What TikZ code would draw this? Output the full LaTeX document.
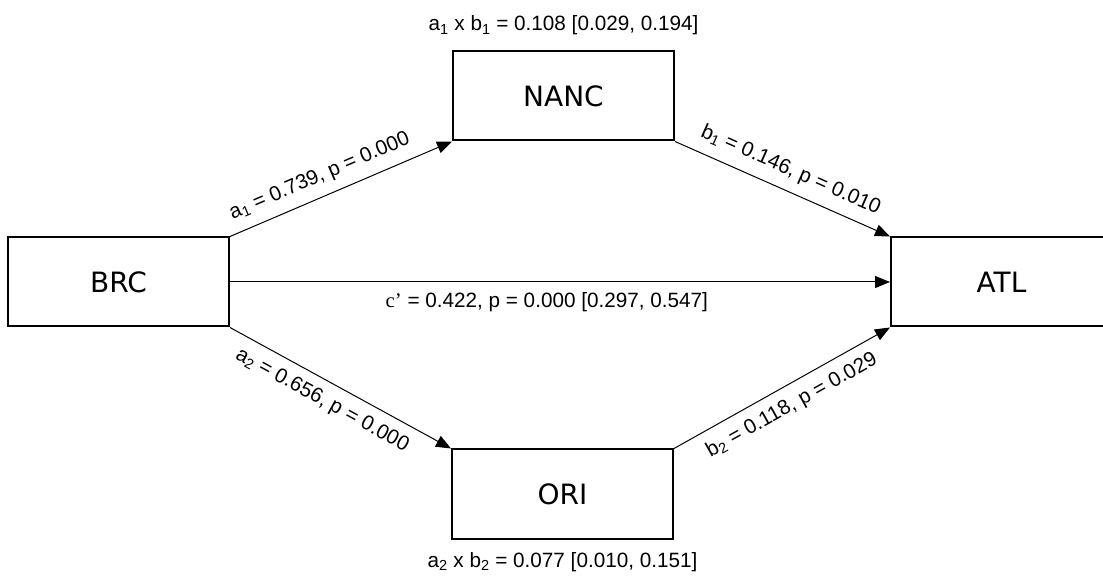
\documentclass[tikz,border=0pt]{standalone}
\usepackage{fontspec}
\setmainfont{Liberation Sans}
\newfontfamily\boxfont{DejaVu Sans}
\newfontfamily\serfont{Liberation Serif}
\usetikzlibrary{
  positioning,
  arrows.meta
}

\begin{document}
\begin{tikzpicture}[x=1pt,y=1pt,>={Triangle[length=15pt,width=12pt]},
    varbox/.style={draw,line width=2pt,minimum width=221pt,minimum height=89pt,inner sep=0pt,
      font=\boxfont\fontsize{28}{34}\selectfont},
    link/.style={->,line width=1pt},
    coef/.style={font=\fontsize{20.7}{24}\selectfont,inner sep=10pt},
    indirect/.style={font=\fontsize{20.7}{24}\selectfont,inner sep=2pt}]
        \useasboundingbox (0,0) rectangle (1103,576);
        % variables
        \node[varbox] (brc) at (118.5,294) {BRC};
        \node[varbox] (nanc) at (563.5,480) {NANC};
        \node[varbox] (ori) at (562.5,82) {ORI};
        \node[varbox] (atl) at (1001.5,294) {ATL};
        % indirect effects
        \node[indirect,above=13pt of nanc] (ind1) {a\textsubscript{1} x b\textsubscript{1} = 0.108 [0.029, 0.194]};
        \node[indirect,below=11pt of ori] (ind2) {a\textsubscript{2} x b\textsubscript{2} = 0.077 [0.010, 0.151]};
        % paths
        \draw[link] (brc.north east) -- node[coef,sloped,above,pos=0.44] {a\textsubscript{1} = 0.739, p = 0.000} (nanc.south west);
        \draw[link] (brc.south east) -- node[coef,sloped,below,pos=0.46] {a\textsubscript{2} = 0.656, p = 0.000} (ori.north west);
        \draw[link] (nanc.south east) -- node[coef,sloped,above,pos=0.5] {b\textsubscript{1} = 0.146, p = 0.010} (atl.north west);
        \draw[link] (ori.north east) -- node[coef,sloped,below,pos=0.5] {b\textsubscript{2} = 0.118, p = 0.029} (atl.south west);
        \draw[link] (brc) -- node[coef,below,pos=0.48] {{\serfont c’} = 0.422, p = 0.000 [0.297, 0.547]} (atl);
    \end{tikzpicture}
\end{document}
